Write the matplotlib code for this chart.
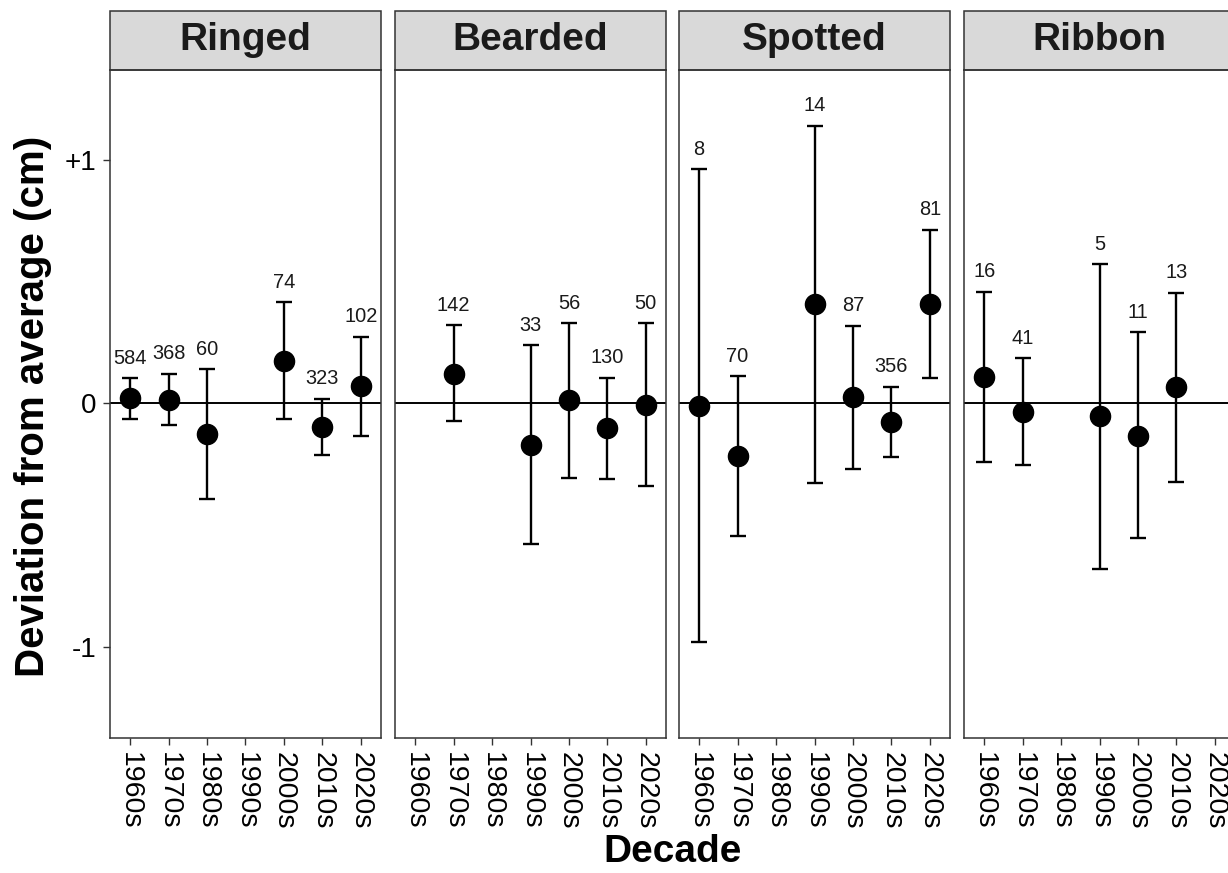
import numpy as np
import matplotlib
matplotlib.use("Agg")
import matplotlib.pyplot as plt
from matplotlib.patches import Rectangle

plt.rcParams["font.family"] = ["Liberation Sans", "DejaVu Sans"]

nan = np.nan
species = ["Ringed", "Bearded", "Spotted", "Ribbon"]
decades = ["1960s", "1970s", "1980s", "1990s", "2000s", "2010s", "2020s"]

# mean deviation, CI bounds and sample size per decade (nan = no data)
ringed_mean = [0.021, 0.016, -0.126, nan, 0.174, -0.096, 0.072]
ringed_lo = [-0.065, -0.089, -0.393, nan, -0.065, -0.213, -0.132]
ringed_hi = [0.103, 0.123, 0.141, nan, 0.416, 0.018, 0.274]
ringed_n = [584, 368, 60, None, 74, 323, 102]

bearded_mean = [nan, 0.123, nan, -0.172, 0.014, -0.099, -0.008]
bearded_lo = [nan, -0.073, nan, -0.580, -0.305, -0.309, -0.340]
bearded_hi = [nan, 0.322, nan, 0.240, 0.329, 0.105, 0.329]
bearded_n = [None, 142, None, 33, 56, 130, 50]

spotted_mean = [-0.011, -0.217, nan, 0.409, 0.025, -0.076, 0.409]
spotted_lo = [-0.981, -0.545, nan, -0.329, -0.270, -0.221, 0.105]
spotted_hi = [0.964, 0.112, nan, 1.142, 0.319, 0.068, 0.714]
spotted_n = [8, 70, None, 14, 87, 356, 81]

ribbon_mean = [0.109, -0.034, nan, -0.052, -0.133, 0.066, nan]
ribbon_lo = [-0.240, -0.253, nan, -0.679, -0.553, -0.322, nan]
ribbon_hi = [0.459, 0.185, nan, 0.572, 0.292, 0.455, nan]
ribbon_n = [16, 41, None, 5, 11, 13, None]

panels = [
    (ringed_mean, ringed_lo, ringed_hi, ringed_n),
    (bearded_mean, bearded_lo, bearded_hi, bearded_n),
    (spotted_mean, spotted_lo, spotted_hi, spotted_n),
    (ribbon_mean, ribbon_lo, ribbon_hi, ribbon_n),
]

W, H = 1228, 873
fig = plt.figure(figsize=(W / 100, H / 100), dpi=100)

border = "#333333"
lefts = [110, 395, 679, 964]
pw, top_px, bot_px = 271, 69.7, 737.7
strip_h = 59

x = np.arange(len(decades))
for i, (name, (m, lo, hi, n)) in enumerate(zip(species, panels)):
    ax = fig.add_axes([lefts[i] / W, 1 - bot_px / H, pw / W, (bot_px - top_px) / H])
    m, lo, hi = np.array(m), np.array(lo), np.array(hi)
    ax.axhline(0, color="black", lw=1.4, zorder=1)
    ax.errorbar(x, m, yerr=[m - lo, hi - m], fmt="o", color="black", ms=14.5,
                elinewidth=1.7, capsize=5.8, capthick=1.7, zorder=3)
    for xi, h, k in zip(x, hi, n):
        if k is None:
            continue
        ax.annotate(str(k), (xi, h), xytext=(0, 10.5), textcoords="offset points",
                    ha="center", va="baseline", fontsize=14.4, color="#1a1a1a")
    ax.set_xlim(-0.525, 6.525)
    ax.set_ylim(-1.375, 1.373)
    ax.set_xticks(x)
    ax.set_xticklabels(decades, rotation=270, fontsize=20.5, va="top", ha="center")
    ax.set_yticks([-1, 0, 1])
    if i == 0:
        ax.set_yticklabels(["-1", "0", "+1"], fontsize=20)
    else:
        ax.tick_params(axis="y", left=False, labelleft=False)
    ax.tick_params(length=5, width=1, color=border, pad=5, labelcolor="black")
    for s in ax.spines.values():
        s.set_color(border)
        s.set_linewidth(1.1)
    # facet strip
    sh = strip_h / (bot_px - top_px)
    ax.add_patch(Rectangle((0, 1), 1, sh, transform=ax.transAxes, clip_on=False,
                           facecolor="#d9d9d9", edgecolor=border, lw=1.1))
    ax.text(0.5, 1 + sh / 2, name, transform=ax.transAxes, ha="center", va="center",
            fontsize=28, fontweight="bold", color="#1a1a1a")

fig.text(33 / W, 1 - 406 / H, "Deviation from average (cm)", rotation=90,
         ha="center", va="center", fontsize=29, fontweight="bold")
fig.text(673 / W, 1 - 852 / H, "Decade", ha="center", va="center",
         fontsize=28, fontweight="bold")

fig.savefig("out.png", dpi=100)
